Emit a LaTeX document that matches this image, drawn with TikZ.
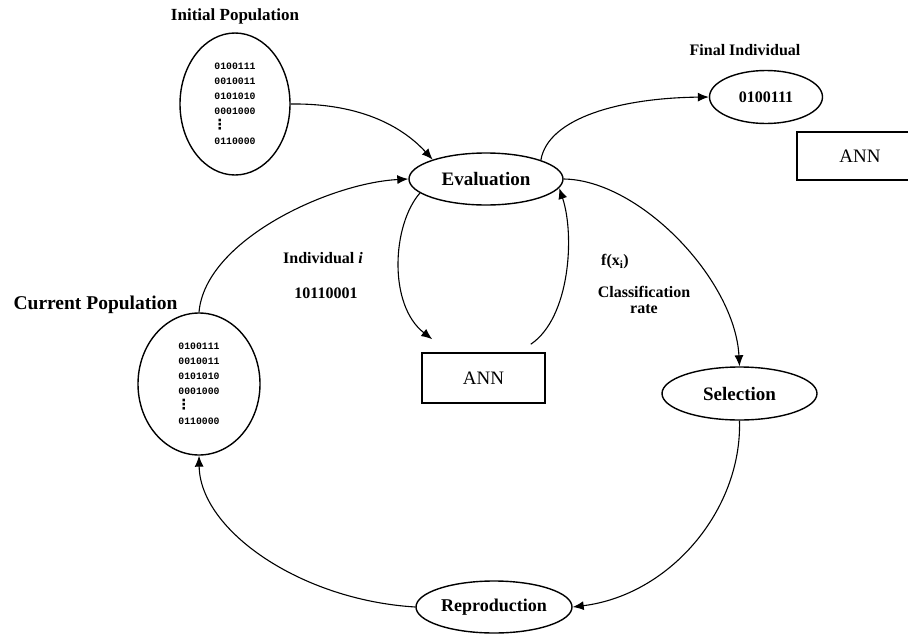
\documentclass[tikz,border=0pt]{standalone}
\usepackage{fontspec}
\setmainfont{Liberation Serif}
\setmonofont{Liberation Mono}
\newfontfamily\dejavu{DejaVu Sans}
\usetikzlibrary{shapes.geometric,arrows.meta,calc}
\newcommand\myfs[1]{\fontsize{#1}{#1}\selectfont}
\newcommand\vdotz{{\dejavu\bfseries\fontsize{14}{15}\selectfont\kern-1.5pt ⋮}}
\begin{document}
\begin{tikzpicture}[x=1pt,y=-1pt,
  oval/.style={ellipse,draw,line width=1.4pt,inner sep=0pt},
  box/.style={rectangle,draw,line width=1.5pt,inner sep=0pt},
  lbl/.style={inner sep=0pt,font=\bfseries\myfs{17}},
  pop/.style={oval,font=\ttfamily\bfseries\fontsize{9.8}{15}\selectfont,align=left},
  conn/.style={line width=1.1pt,-{Latex[length=11pt,width=9pt]}}
]
\useasboundingbox (0,0) rectangle (908,635);
\clip (0,0) rectangle (908,635);

\node[lbl] (ipl) at (235,16) {Initial Population};
\node[pop,minimum width=110pt,minimum height=142pt] (ip) at (235,104)
  {0100111\\0010011\\0101010\\0001000\\\vdotz\\0110000};
\node[oval,minimum width=154pt,minimum height=52pt,font=\bfseries\myfs{19}] (ev) at (486,179) {Evaluation};
\node[lbl,font=\bfseries\myfs{16}] (fil) at (745,50) {Final Individual};
\node[oval,minimum width=113pt,minimum height=53pt,font=\bfseries\myfs{16}] (fi) at (766,97) {0100111};
\node[box,minimum width=126pt,minimum height=48pt,font=\myfs{19}] (annr) at (860,156) {ANN};
\node[box,minimum width=123pt,minimum height=50pt,font=\myfs{19}] (annm) at (483.5,378) {ANN};
\node[oval,minimum width=155pt,minimum height=53pt,font=\bfseries\myfs{19}] (sel) at (739.5,393.5) {Selection};
\node[oval,minimum width=156pt,minimum height=52pt,font=\bfseries\myfs{18}] (rep) at (494,607) {Reproduction};
\node[lbl,font=\bfseries\myfs{19.5}] (cpl) at (95.5,305) {Current Population};
\node[pop,minimum width=122pt,minimum height=142pt] (cp) at (199,384)
  {0100111\\0010011\\0101010\\0001000\\\vdotz\\0110000};
\node[lbl,font=\bfseries\myfs{16}] (ind) at (323,258) {Individual \textit{i}};
\node[lbl,font=\bfseries\myfs{16}] (indn) at (326,293) {10110001};
\node[lbl,font=\bfseries\myfs{16}] (fx) at (615,262) {f(x\textsubscript{i})};
\node[lbl,font=\bfseries\myfs{16},align=center] (cls) at (644,300) {Classification\\rate};

\coordinate (annin) at ($(annm.north west)+(11,-13)$);
\coordinate (annout) at ($(annm.north east)+(-15,-8)$);

\draw[conn] (ip.east) .. controls (372,103) and (410,135) .. (ev.160);
\draw[conn] (ev.19) .. controls (548,118) and (620,98) .. (fi.west);
\draw[conn] (ev.192) .. controls (392,225) and (388,305) .. (annin);
\draw[conn] (annout) .. controls (570,318) and (575,235) .. (ev.353);
\draw[conn] (ev.east) .. controls (640,180) and (735,280) .. (sel.north);
\draw[conn] (sel.south) .. controls (742,510) and (670,595) .. (rep.east);
\draw[conn] (rep.west) .. controls (300,600) and (200,530) .. (cp.south);
\draw[conn] (cp.north) .. controls (205,240) and (330,183) .. (ev.west);
\end{tikzpicture}
\end{document}
